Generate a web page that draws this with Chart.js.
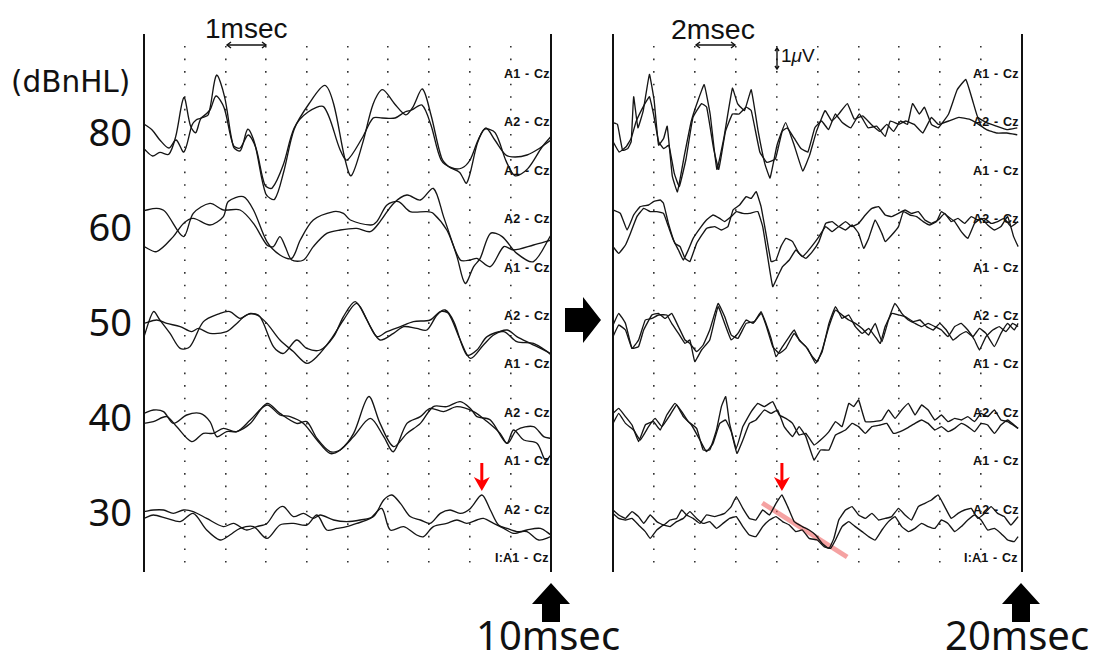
<!DOCTYPE html>
<html>
<head>
<meta charset="utf-8">
<script src="https://cdn.jsdelivr.net/npm/chart.js@4/dist/chart.umd.min.js"></script>
<style>
  body { margin: 0; background: #fff; width: 1099px; height: 654px; position: relative; overflow: hidden; font-family: "Liberation Sans", Arial, sans-serif; color: #111; }
  .txt { position: absolute; white-space: nowrap; line-height: 1; }
  .lvl { font-family: "Noto Sans", sans-serif; font-size: 38px; text-align: right; width: 132px; left: 0; }
  .ms { font-family: "Noto Sans", sans-serif; font-size: 40px; }
  .ch { position: absolute; overflow: hidden; white-space: nowrap; font: bold 12.5px "Liberation Sans", Arial, sans-serif; line-height: 13px; letter-spacing: 0.2px; word-spacing: 1px; }
  canvas { position: absolute; }
</style>
</head>
<body>

<div class="txt" style="left:11px;top:68px;font-family:'DejaVu Sans';font-size:29.5px;">(dBnHL)</div>
<div class="txt" style="left:205px;top:15px;font-size:28px;">1msec</div>
<div class="txt" style="left:671px;top:15px;font-size:28.5px;">2msec</div>
<div class="txt" style="left:781px;top:46px;font-size:19px;">1<i>μ</i>V</div>
<div class="txt ms" style="left:476px;top:615px;">10msec</div>
<div class="txt ms" style="left:945px;top:615px;">20msec</div>
<div id="labels"></div>

<canvas id="leftChart" width="427" height="550" style="left:134px;top:30px;"></canvas>
<canvas id="rightChart" width="429" height="550" style="left:603px;top:30px;"></canvas>

<svg width="1099" height="654" style="position:absolute;left:0;top:0;pointer-events:none;">
  <!-- time / amplitude scale bars -->
  <g stroke="#111" stroke-width="1.4" fill="none">
    <line x1="227" y1="45" x2="266" y2="45"/>
    <polyline points="231,42 227,45 231,48"/>
    <polyline points="262,42 266,45 262,48"/>
    <line x1="696" y1="45" x2="735" y2="45"/>
    <polyline points="700,42 696,45 700,48"/>
    <polyline points="731,42 735,45 731,48"/>
    <line x1="777" y1="48" x2="777" y2="69"/>
    <polyline points="775,51 777,48 779,51"/>
    <polyline points="775,66 777,69 779,66"/>
  </g>
  <!-- block arrows -->
  <polygon points="565,308 583,308 583,297 601,320 583,343 583,332 565,332" fill="#000"/>
  <polygon points="551,583 570,604 560,604 560,622 542,622 542,604 532,604" fill="#000"/>
  <polygon points="1021,583 1040,604 1030,604 1030,622 1012,622 1012,604 1002,604" fill="#000"/>
</svg>

<script>
// stimulus levels and the baseline (uV) each pair of traces is stacked on
const levels = ['80', '60', '50', '40', '30'];
const levelOffsets = [22, 17.25, 12.5, 7.75, 3];
const channelLabels = ['A1 - Cz', 'A2 - Cz', 'A1 - Cz', 'A2 - Cz', 'A1 - Cz', 'A2 - Cz',
  'A1 - Cz', 'A2 - Cz', 'A1 - Cz', 'A2 - Cz', 'I:A1 - Cz'];

// traces: [ms, uV] relative to the level baseline, 0-10 ms sweep
const left80a = [[0,-0.84],[0.21,-1.2],[0.39,-1.02],[0.61,-1.11],[0.78,-0.22],[0.98,1.72],[1.14,0.32],[1.27,-0.04],[1.4,0.68],[1.58,0.86],[1.78,2.84],[1.98,1.76],[2.2,-0.75],[2.37,-0.93],[2.55,0.14],[2.72,-0.57],[2.99,-3.09],[3.21,-3.36],[3.43,-2.01],[3.69,0.14],[4.05,1.4],[4.44,2.33],[4.66,1.4],[4.93,-1.29],[5.09,-2.19],[5.37,-0.57],[5.63,1.4],[5.86,2.12],[6.16,1.4],[6.43,0.86],[6.6,1.22],[6.84,2.15],[7.05,0.86],[7.31,-1.29],[7.49,-1.74],[7.75,-2.01],[7.93,-2.55],[8.19,-0.57],[8.37,0.14],[8.63,-0.04],[8.9,-1.47],[9.12,-2.19],[9.43,-1.83],[9.78,-0.75],[10,-0.22]];
const left80b = [[0,0.4],[0.2,0.1],[0.39,-0.4],[0.61,-0.8],[0.79,-0.4],[0.98,-1],[1.18,0.35],[1.28,0.6],[1.4,0.7],[1.62,1.1],[1.77,1.8],[1.97,1.2],[2.19,-0.65],[2.36,-0.8],[2.56,-0.15],[2.75,-0.8],[2.97,-2.65],[3.15,-2.8],[3.42,-1.65],[3.69,0.2],[4.03,1],[4.42,1.25],[4.82,-0.9],[4.99,-1.4],[5.36,-0.3],[5.63,0.7],[5.85,0.7],[6.17,0.7],[6.41,1],[6.58,1.1],[6.83,1.35],[7.05,0.35],[7.3,-1.4],[7.57,-1.8],[7.81,-1.8],[8.01,-1.4],[8.21,-0.4],[8.4,0.2],[8.62,-0.4],[8.89,-1.15],[9.12,-1.25],[9.41,-1.15],[9.73,-0.8],[10,-0.4]];
const left60a = [[0,0.82],[0.31,0.93],[0.52,0.77],[0.97,-0.48],[1.21,0.68],[1.62,1.18],[1.95,0.85],[2.36,0.85],[2.69,0.18],[3.02,-0.9],[3.18,-0.98],[3.34,-0.48],[3.47,-0.98],[3.63,-1.65],[3.92,-1.65],[4.16,-0.98],[4.49,-0.32],[4.82,-0.15],[5.23,-0.07],[5.56,-0.23],[5.8,0.27],[6.13,1.18],[6.46,1.6],[6.79,1.35],[7.11,1.93],[7.36,0.52],[7.69,-1.48],[7.89,-2.82],[8.1,-1.98],[8.26,-1.57],[8.51,-0.32],[8.8,-0.48],[9.16,-1.32],[9.57,-1.73],[10,-0.4]];
const left60b = [[0,-0.98],[0.31,-1.23],[0.72,-0.48],[0.97,0.18],[1.21,0.43],[1.62,0.1],[1.95,0.52],[2.07,1.27],[2.44,1.52],[2.69,0.85],[3.02,-0.73],[3.34,-1.4],[3.63,-1.57],[3.84,-0.65],[4.16,0.35],[4.66,0.77],[4.9,0.68],[5.07,0.35],[5.56,0.1],[5.72,0.27],[5.97,1.1],[6.25,1.27],[6.54,0.77],[6.95,0.77],[7.11,0.68],[7.44,-0.15],[7.77,-1.65],[8.02,-1.65],[8.18,-1.57],[8.51,-1.98],[8.84,-0.98],[9.08,-1.15],[9.57,-0.9],[10,-0.65]];
const left50a = [[0,-0.73],[0.23,0.52],[0.39,0.1],[0.64,-0.57],[0.89,-1.32],[1.13,-1.23],[1.46,0.02],[1.87,0.43],[2.11,0.52],[2.36,0.18],[2.61,0.43],[2.85,0.27],[3.18,-1.23],[3.43,-1.57],[3.75,-0.9],[4,-1.32],[4.33,-1.4],[4.66,-0.73],[4.9,0.27],[5.19,1.02],[5.48,0.1],[5.72,-0.73],[5.97,-0.48],[6.3,-0.23],[6.62,0.02],[7.03,0.1],[7.28,0.52],[7.48,0.43],[7.77,-0.9],[8.02,-1.82],[8.34,-1.15],[8.59,-0.65],[8.92,-0.4],[9.16,-0.73],[9.49,-1.07],[9.9,-1.48],[10,-1.65]];
const left50b = [[0,-0.07],[0.31,0.1],[0.56,-0.07],[0.89,-0.23],[1.17,-0.48],[1.34,-0.32],[1.62,-0.57],[2.03,-0.48],[2.28,-0.07],[2.52,0.35],[2.77,0.35],[3.02,-0.07],[3.34,-0.9],[3.67,-1.48],[4,-2.07],[4.25,-1.73],[4.61,-0.82],[4.9,0.1],[5.23,0.93],[5.56,-0.23],[5.8,-0.9],[6.13,-0.57],[6.38,-0.23],[6.7,-0.32],[6.95,-0.4],[7.2,0.35],[7.4,0.6],[7.61,0.02],[7.93,-1.65],[8.18,-1.4],[8.43,-0.73],[8.84,-0.48],[9.16,-0.98],[9.57,-1.07],[9.98,-1.57]];
const left40a = [[0,0.18],[0.23,0.35],[0.48,0.27],[0.72,-0.32],[1.05,0.1],[1.38,0.18],[1.62,-0.23],[1.79,-0.98],[2.03,-0.73],[2.28,-0.73],[2.61,-0.32],[3.02,0.68],[3.34,0.18],[3.75,-0.32],[4,-0.23],[4.25,-1.07],[4.57,-1.73],[4.82,-1.65],[5.15,-0.82],[5.52,1.02],[5.8,-0.32],[6.13,-1.48],[6.46,-0.82],[6.79,-0.32],[7.11,0.52],[7.44,0.52],[7.77,0.77],[8.02,0.43],[8.18,0.02],[8.51,-0.15],[8.92,-1.32],[9.16,-0.65],[9.57,-0.48],[9.82,-0.98],[10,-1.07]];
const left40b = [[0,-0.32],[0.23,-0.23],[0.56,0.02],[0.8,-0.48],[1.17,-1.23],[1.46,-0.82],[1.7,-0.82],[1.95,-0.57],[2.28,-0.73],[2.61,-0.15],[3.02,0.6],[3.34,0.1],[3.59,0.02],[3.92,-0.32],[4.25,-1.15],[4.57,-1.82],[4.82,-1.65],[5.15,-0.98],[5.56,-0.07],[5.89,-0.98],[6.13,-1.73],[6.46,-0.32],[6.79,0.02],[7.03,0.43],[7.36,0.27],[7.69,0.52],[8.1,0.27],[8.43,-0.23],[8.75,-0.82],[8.92,-1.32],[9.08,-0.65],[9.33,-1.15],[9.66,-1.32],[9.86,-2.15],[10,-1.9]];
const left30a = [[0,0.02],[0.23,0.1],[0.48,0.1],[0.72,-0.07],[0.97,0.1],[1.21,0.02],[1.54,-0.32],[1.95,-0.73],[2.2,-0.57],[2.52,-0.9],[2.77,-0.73],[3.02,-0.57],[3.26,0.1],[3.43,0.27],[3.67,-0.23],[3.92,-0.07],[4.16,-0.32],[4.33,-0.15],[4.66,-0.4],[4.98,-0.48],[5.31,-0.4],[5.64,-0.23],[5.89,0.6],[6.09,0.85],[6.3,0.43],[6.54,-0.23],[6.79,-0.4],[7.03,-0.57],[7.28,-0.07],[7.52,0.1],[7.77,-0.07],[8.02,0.18],[8.3,0.85],[8.51,0.1],[8.71,-0.65],[8.92,-0.82],[9.16,-0.98],[9.41,-0.98],[9.7,-1.4],[10,-1.23]];
const left30b = [[0,-0.32],[0.23,-0.15],[0.56,-0.32],[0.89,-0.48],[1.21,-0.07],[1.54,-0.9],[1.87,-1.4],[2.11,-1.15],[2.36,-0.82],[2.69,-0.73],[3.02,-1.32],[3.34,-0.65],[3.67,-0.57],[4,-0.65],[4.25,-0.15],[4.49,-0.9],[4.74,-0.82],[4.98,-0.73],[5.23,-0.57],[5.56,-0.32],[5.84,0.18],[6.05,-0.9],[6.38,-0.73],[6.7,-1.15],[6.87,-1.23],[7.11,-0.73],[7.44,-0.57],[7.69,-0.4],[7.93,-0.57],[8.18,-0.4],[8.34,-0.32],[8.59,-0.57],[8.84,-0.82],[9.08,-1.07],[9.41,-0.9],[9.74,-0.82],[10,-1.15]];

// traces: [ms, uV] relative to the level baseline, 0-20 ms sweep
const right80a = [[0,0.47],[0.22,0.38],[0.47,-0.92],[0.72,-0.83],[0.89,-0.48],[1.01,1.76],[1.22,0.21],[1.48,1.07],[1.78,2.88],[2.01,1.59],[2.23,-0.66],[2.48,-0.31],[2.65,0.29],[2.9,-2.21],[3.15,-2.99],[3.49,-1.17],[3.83,0.55],[4.16,1.59],[4.46,2.37],[4.75,0.9],[5.08,-1.87],[5.42,-0.31],[5.84,2.19],[6.09,1.42],[6.43,1.07],[6.76,2.11],[7.1,0.03],[7.43,-1.61],[7.68,-2.3],[8.02,-0.66],[8.44,0.47],[8.86,-0.66],[9.28,-1.95],[9.61,-1.17],[9.95,0.03],[10.37,1.07],[10.7,0.55],[11.04,0.9],[11.46,1.42],[11.8,0.64],[12.21,0.81],[12.63,0.38],[13.05,0.03],[13.39,0.38],[13.72,0.03],[14.06,0.55],[14.4,0.38],[14.65,1.42],[14.98,0.9],[15.23,1.24],[15.57,0.38],[15.91,0.21],[16.41,0.9],[16.83,2.11],[17.25,2.63],[17.58,1.59],[17.84,0.73],[18.26,0.47],[18.76,0.29],[19.26,0.12],[19.77,0.21]];
const right80b = [[0,-0.48],[0.3,-1],[0.64,-0.74],[0.89,-0.31],[1.14,0.55],[1.56,1.42],[1.78,1.76],[1.98,0.9],[2.23,-0.48],[2.48,-0.83],[2.73,-0.66],[2.99,-2.04],[3.24,-2.73],[3.57,-1.35],[3.91,0.73],[4.33,1.42],[4.58,1.24],[4.92,-0.83],[5.17,-1.87],[5.5,0.03],[5.84,0.9],[6.17,0.9],[6.51,1.24],[6.76,1.07],[7.18,-1],[7.52,-1.52],[7.94,-1.35],[8.27,0.03],[8.52,0.21],[8.86,-0.31],[9.19,-0.83],[9.53,-1],[9.87,0.21],[10.2,0.55],[10.54,0.12],[10.87,0.9],[11.21,0.47],[11.63,0.21],[12.05,0.9],[12.47,0.21],[12.89,0.29],[13.31,-0.22],[13.56,0.55],[13.98,0.38],[14.31,0.55],[14.73,0.38],[15.15,-0.05],[15.57,0.73],[15.91,0.38],[16.41,0.55],[16.91,0.73],[17.42,0.64],[17.75,0.47],[18.26,0.12],[18.76,-0.05],[19.26,-0.05],[19.77,-0.14]];
const right60a = [[0,0.85],[0.36,0.68],[0.69,-0.15],[1.01,0.6],[1.33,1.02],[1.74,1.1],[1.98,1.27],[2.31,1.35],[2.47,1.18],[2.71,0.18],[3.03,-0.82],[3.28,-0.98],[3.52,-1.57],[3.76,-1.73],[4.09,-0.82],[4.57,-0.07],[4.98,0.02],[5.3,-0.15],[5.62,0.02],[5.87,0.85],[6.19,1.1],[6.51,1.52],[6.76,1.43],[7,1.77],[7.24,1.02],[7.48,-0.32],[7.73,-1.73],[7.97,-1.65],[8.21,-0.98],[8.45,-0.57],[8.78,-0.73],[9.1,-1.32],[9.43,-1.57],[9.75,-1.23],[10.07,-0.73],[10.4,0.18],[10.72,0.27],[11.04,0.02],[11.37,0.27],[11.69,0.02],[12.01,0.18],[12.34,0.6],[12.66,0.93],[12.99,1.02],[13.31,0.6],[13.63,0.52],[13.96,0.68],[14.28,0.85],[14.6,0.68],[14.93,0.77],[15.25,0.35],[15.57,0.18],[15.9,0.35],[16.22,0.68],[16.54,0.27],[16.87,0.43],[17.19,0.18],[17.52,0.52],[17.84,0.35],[18.16,0.43],[18.49,0.18],[18.81,0.27],[19.13,0.43],[19.46,0.02],[19.81,0.27]];
const right60b = [[0,-0.98],[0.28,-1.32],[0.61,-0.9],[0.85,-0.32],[1.17,0.52],[1.5,0.93],[1.82,0.77],[2.14,0.77],[2.47,0.68],[2.71,0.02],[2.95,-0.65],[3.2,-1.15],[3.44,-1.65],[3.68,-1.15],[3.92,-0.57],[4.25,-0.07],[4.57,0.35],[4.89,0.6],[5.22,0.43],[5.46,0.27],[5.78,0.52],[6.03,0.77],[6.35,0.68],[6.67,0.68],[7.08,0.77],[7.32,0.02],[7.56,-1.48],[7.81,-2.98],[8.05,-2.48],[8.29,-1.98],[8.62,-1.65],[8.94,-1.15],[9.26,-1.48],[9.51,-1.23],[9.83,-0.82],[10.07,-0.48],[10.4,0.02],[10.72,-0.23],[11.04,0.02],[11.37,-0.15],[11.69,0.1],[12.01,-0.32],[12.26,-1.07],[12.5,-0.57],[12.82,0.35],[13.15,-0.32],[13.31,-0.73],[13.63,-0.4],[13.96,0.02],[14.2,0.77],[14.52,0.6],[14.85,0.52],[15.17,0.27],[15.49,0.1],[15.82,0.27],[16.06,0.77],[16.38,0.52],[16.71,0.27],[17.03,-0.23],[17.35,-0.57],[17.68,0.18],[18,0.43],[18.32,0.1],[18.65,-0.15],[18.97,0.02],[19.3,0.52],[19.59,-0.48],[19.81,-0.98]];
const right50a = [[0,-0.15],[0.28,0.43],[0.61,-0.07],[0.93,-1.32],[1.25,-1.23],[1.5,-0.4],[1.9,0.35],[2.22,0.43],[2.55,0.18],[2.87,0.43],[3.2,-0.23],[3.52,-0.9],[3.76,-1.07],[4.09,-1.48],[4.41,-1.15],[4.73,-0.4],[5.14,0.93],[5.46,0.27],[5.78,-0.65],[6.11,-0.82],[6.51,-0.07],[6.92,0.02],[7.24,0.52],[7.48,-0.07],[7.73,-0.82],[7.97,-1.73],[8.29,-1.23],[8.62,-0.73],[8.86,-0.4],[9.1,-0.9],[9.43,-1.23],[9.75,-1.73],[9.99,-1.98],[10.23,-1.4],[10.56,-0.23],[10.88,0.6],[11.2,0.35],[11.53,0.1],[11.85,-0.07],[12.18,-0.32],[12.5,-0.65],[12.82,-0.07],[13.15,-0.98],[13.47,0.1],[13.79,0.93],[14.12,0.43],[14.44,0.1],[14.77,-0.07],[15.09,-0.23],[15.41,-0.07],[15.74,-0.23],[16.06,-0.4],[16.38,-0.73],[16.71,-0.23],[17.03,-0.07],[17.35,-0.4],[17.68,-0.9],[17.92,-1.4],[18.24,-0.73],[18.57,-0.4],[18.89,-0.23],[19.21,-0.48],[19.54,-0.07],[19.81,-0.23]];
const right50b = [[0,-0.73],[0.28,-0.15],[0.61,-0.4],[0.93,-1.32],[1.25,-0.9],[1.58,0.1],[1.9,0.18],[2.22,0.35],[2.63,0.35],[2.87,-0.07],[3.2,-0.57],[3.52,-1.07],[3.76,-0.9],[4,-1.98],[4.33,-1.4],[4.73,-0.9],[5.14,0.77],[5.46,-0.07],[5.78,-0.9],[6.11,-0.57],[6.51,0.1],[6.84,-0.07],[7.24,0.43],[7.48,-0.15],[7.81,-1.23],[8.13,-1.57],[8.45,-1.32],[8.86,-0.57],[9.18,-0.98],[9.51,-1.32],[9.91,-2.07],[10.23,-1.48],[10.56,-0.07],[10.88,0.77],[11.2,0.18],[11.53,0.35],[11.85,-0.23],[12.18,-0.57],[12.5,-0.32],[12.82,-0.73],[13.07,-1.07],[13.31,-0.23],[13.63,0.43],[13.96,0.35],[14.28,0.27],[14.68,0.02],[15.01,0.1],[15.33,-0.23],[15.66,-0.4],[15.98,-0.07],[16.3,-0.4],[16.63,-0.9],[16.95,-0.65],[17.27,-0.48],[17.6,-0.73],[17.92,-0.32],[18.24,-0.57],[18.65,-1.23],[18.97,-0.57],[19.3,-0.07],[19.62,-0.4],[19.81,-0.07]];
const right40a = [[0,0.18],[0.28,0.43],[0.61,0.02],[0.93,-0.4],[1.25,-1.23],[1.58,-0.4],[1.98,-0.23],[2.31,-0.65],[2.63,0.1],[3.03,0.68],[3.36,0.27],[3.68,-0.23],[4.09,-0.57],[4.41,-1.65],[4.73,-1.65],[5.06,-0.65],[5.3,0.52],[5.51,1.02],[5.7,-0.32],[6.03,-1.57],[6.35,-0.48],[6.76,0.27],[7.08,0.68],[7.4,0.52],[7.81,0.77],[8.13,0.1],[8.45,-0.07],[8.78,-0.32],[9.1,-0.9],[9.43,-0.82],[9.83,-1.4],[10.15,-1.15],[10.56,-0.73],[10.88,-0.23],[11.2,-0.48],[11.53,0.68],[11.77,0.52],[12.01,0.85],[12.34,-0.23],[12.74,-0.23],[13.15,-0.15],[13.47,0.35],[13.79,-0.07],[14.12,0.35],[14.44,0.68],[14.77,0.1],[15.09,0.6],[15.41,0.35],[15.74,-0.15],[16.06,0.1],[16.38,-0.23],[16.71,-0.07],[17.03,-0.15],[17.35,0.02],[17.68,-0.23],[18,0.18],[18.32,0.02],[18.65,0.35],[18.97,-0.15],[19.3,-0.23],[19.81,-0.57]];
const right40b = [[0,-0.32],[0.28,0.18],[0.61,-0.32],[1.01,-0.65],[1.33,-1.15],[1.74,-0.48],[2.06,-0.07],[2.39,-0.48],[2.79,0.1],[3.11,0.6],[3.44,0.02],[3.84,-0.4],[4.25,-1.15],[4.57,-1.73],[4.89,-1.32],[5.22,-0.32],[5.51,-0.15],[5.78,-0.73],[6.06,-1.82],[6.35,-1.15],[6.67,-0.32],[6.99,-0.15],[7.4,0.35],[7.73,0.18],[8.05,0.35],[8.37,-0.48],[8.78,-0.98],[9.1,-0.48],[9.43,-0.98],[9.83,-2.15],[10.15,-1.65],[10.56,-1.65],[10.88,-0.9],[11.37,-0.65],[11.69,-0.32],[12.01,-0.48],[12.34,-0.82],[12.66,-0.48],[13.07,-0.4],[13.39,-0.32],[13.71,-0.82],[14.04,-0.73],[14.36,-0.57],[14.77,-0.32],[15.09,-0.15],[15.41,-0.32],[15.74,-0.65],[16.06,-0.48],[16.38,-0.73],[16.71,-0.57],[17.03,-0.32],[17.35,-0.48],[17.68,-0.73],[18,-0.32],[18.32,-0.4],[18.65,-0.82],[18.97,-0.4],[19.3,-0.15],[19.81,-0.57]];
const right30a = [[0,0.1],[0.28,-0.15],[0.61,-0.32],[0.93,0.02],[1.25,-0.23],[1.5,-0.57],[1.82,-0.15],[2.14,-0.48],[2.47,-0.65],[2.79,-0.4],[3.11,-0.32],[3.36,0.1],[3.6,-0.15],[3.92,-0.32],[4.25,-0.57],[4.57,-0.15],[4.98,-0.23],[5.46,-0.07],[5.78,0.27],[6.03,0.77],[6.35,0.18],[6.67,-0.32],[6.99,-0.4],[7.32,0.1],[7.65,-0.15],[7.97,0.43],[8.26,0.85],[8.54,0.27],[8.86,-0.48],[9.26,-0.73],[9.59,-0.9],[9.91,-1.15],[10.23,-1.57],[10.56,-1.82],[10.8,-1.32],[11.04,-0.4],[11.37,0.1],[11.69,0.27],[12.01,-0.15],[12.34,-0.32],[12.66,-0.07],[12.99,-0.4],[13.31,-0.32],[13.63,-0.23],[13.96,0.18],[14.28,-0.15],[14.6,-0.4],[14.93,0.27],[15.25,0.43],[15.57,0.6],[15.9,0.85],[16.22,0.27],[16.54,-0.32],[16.87,-0.07],[17.19,0.1],[17.52,0.18],[17.84,-0.32],[18.16,-0.07],[18.49,0.27],[18.81,-0.07],[19.13,-0.23],[19.46,-0.65],[19.81,-0.23]];
const right30b = [[0,-0.07],[0.28,-0.32],[0.61,-0.4],[0.93,-0.32],[1.25,-0.65],[1.58,-0.98],[1.82,-1.32],[2.14,-0.9],[2.47,-0.65],[2.79,-0.73],[3.11,-0.48],[3.44,-0.32],[3.76,0.02],[4.09,-0.32],[4.41,-0.57],[4.73,-0.48],[5.06,-0.82],[5.38,-0.57],[5.7,-0.32],[6.03,-0.23],[6.35,-0.73],[6.67,-1.15],[6.99,-1.23],[7.32,-0.73],[7.65,-0.4],[7.97,-0.23],[8.29,-0.48],[8.62,-0.65],[8.94,-0.98],[9.26,-0.9],[9.59,-1.32],[9.99,-1.4],[10.32,-1.73],[10.64,-1.82],[10.88,-1.4],[11.2,-0.73],[11.53,-0.48],[11.85,-0.73],[12.18,-0.98],[12.5,-1.23],[12.82,-1.4],[13.15,-0.9],[13.47,-0.48],[13.79,-0.23],[14.12,-0.73],[14.44,-0.98],[14.77,-0.82],[15.09,-0.57],[15.41,-0.73],[15.74,-0.82],[16.06,-0.4],[16.38,-0.57],[16.71,-0.98],[17.03,-0.73],[17.35,-0.4],[17.68,-0.15],[18,-0.4],[18.32,-0.9],[18.65,-0.82],[18.97,-1.07],[19.3,-1.4],[19.62,-1.48],[19.81,-1.23]];

// latency trend line on the 30 dB trace, 20 ms sweep
const slopeLine = [[7.3, 0.45], [11.45, -2.25]];
// wave V at 30 dB (ms)
const leftPeakMs = 8.3;
const rightPeakMs = 8.26;

const leftTraces = [[left80a, left80b], [left60a, left60b], [left50a, left50b], [left40a, left40b], [left30a, left30b]];
const rightTraces = [[right80a, right80b], [right60a, right60b], [right50a, right50b], [right40a, right40b], [right30a, right30b]];

// panel frame lines plus the red arrow over the wave V peak
const framePlugin = {
    id: 'frame',
    afterDatasetsDraw(chart, args, opts) {
        const ctx = chart.ctx;
        const a = chart.chartArea;
        ctx.save();
        ctx.strokeStyle = '#111';
        ctx.lineWidth = 2;
        ctx.beginPath();
        ctx.moveTo(a.left, a.top - 12);
        ctx.lineTo(a.left, a.bottom);
        ctx.moveTo(a.right, a.top - 12);
        ctx.lineTo(a.right, a.bottom);
        ctx.stroke();

        if (opts.peak) {
            const x = chart.scales.x.getPixelForValue(opts.peak.x);
            const y = chart.scales.y.getPixelForValue(opts.peak.y) - 4;
            ctx.strokeStyle = '#f00';
            ctx.fillStyle = '#f00';
            ctx.lineWidth = 3;
            ctx.beginPath();
            ctx.moveTo(x, y - 28);
            ctx.lineTo(x, y - 9);
            ctx.stroke();
            ctx.beginPath();
            ctx.moveTo(x, y);
            ctx.lineTo(x - 8, y - 14);
            ctx.lineTo(x, y - 10);
            ctx.lineTo(x + 8, y - 14);
            ctx.closePath();
            ctx.fill();
        }
        ctx.restore();
    }
};

function traceSets(traces, tension) {
    let sets = [];
    traces.forEach((pair, i) => {
        pair.forEach(trace => {
            sets.push({
                data: trace.map(p => ({x: p[0], y: p[1] + levelOffsets[i]})),
                borderColor: '#151515',
                borderWidth: 1.35,
                pointRadius: 0,
                tension: tension,
                fill: false
            });
        });
    });
    return sets;
}

function peakOf(trace, ms, level) {
    let p = trace.find(q => q[0] === ms);
    return {x: p[0], y: p[1] + levelOffsets[level]};
}

function makeChart(id, sets, xMax, step, peak) {
    const config = {
        type: 'line',
        data: {datasets: sets},
        options: {
            responsive: false,
            animation: false,
            devicePixelRatio: 1,
            layout: {padding: {left: 10, right: 10, top: 16, bottom: 8}},
            plugins: {
                legend: {display: false},
                tooltip: {enabled: false},
                frame: {peak: peak}
            },
            scales: {
                x: {
                    type: 'linear',
                    min: 0,
                    max: xMax,
                    afterFit: s => { s.height = 0; },
                    ticks: {display: false, stepSize: step},
                    grid: {color: '#333', lineWidth: 1.6, drawTicks: false},
                    border: {display: false, dash: [1.6, 10.96]}
                },
                y: {display: false, min: 0, max: 26.3}
            }
        },
        plugins: [framePlugin]
    };
    return new Chart(document.getElementById(id).getContext('2d'), config);
}

const leftSets = traceSets(leftTraces, 0.3);
const rightSets = traceSets(rightTraces, 0.1);
rightSets.push({
    data: slopeLine.map(p => ({x: p[0], y: p[1] + levelOffsets[4]})),
    borderColor: 'rgba(238,100,100,0.6)',
    borderWidth: 5,
    pointRadius: 0,
    borderCapStyle: 'butt'
});

const leftChart = makeChart('leftChart', leftSets, 10, 1, peakOf(left30a, leftPeakMs, 4));
const rightChart = makeChart('rightChart', rightSets, 20, 2, peakOf(right30a, rightPeakMs, 4));

// level numbers beside the left panel and channel names at each panel's right edge
const holder = document.getElementById('labels');
const canvasTop = 30;
levels.forEach((lv, i) => {
    let d = document.createElement('div');
    d.className = 'txt lvl';
    d.textContent = lv;
    d.style.top = (canvasTop + leftChart.scales.y.getPixelForValue(levelOffsets[i]) - 20) + 'px';
    holder.appendChild(d);
});
[[504, 551], [973, 1022]].forEach(([x0, x1]) => {
    channelLabels.forEach((name, k) => {
        let d = document.createElement('div');
        d.className = 'ch';
        d.textContent = name;
        let start = name.startsWith('I:') ? x0 - 9 : x0;
        d.style.left = start + 'px';
        d.style.width = (x1 - start) + 'px';
        d.style.top = (75 + 48.4 * k - 7) + 'px';
        holder.appendChild(d);
    });
});
</script>
</body>
</html>
